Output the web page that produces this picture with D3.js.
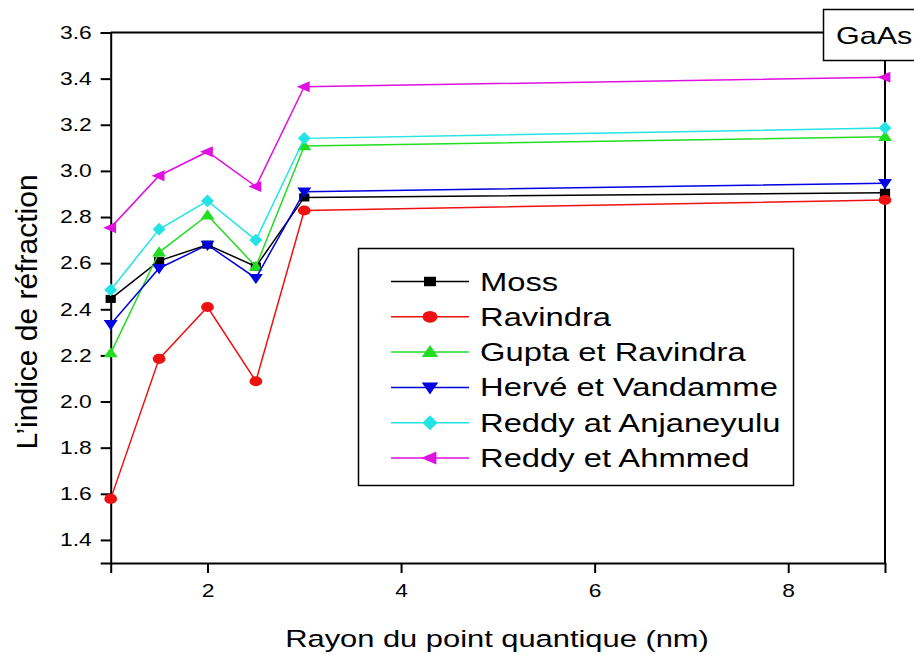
<!DOCTYPE html>
<html>
<head>
<meta charset="utf-8">
<script src="https://cdn.jsdelivr.net/npm/d3@7"></script>
<style>
  html, body { margin: 0; padding: 0; background: #fff; }
  svg { display: block; font-family: Arial, "Liberation Sans", Helvetica, sans-serif; }
</style>
</head>
<body>
<svg id="chart" width="914" height="655"></svg>
<script>
// Quantum dot radius (nm)
const radius = [1, 1.5, 2, 2.5, 3, 9];

// Refractive index of GaAs quantum dots for each model
const moss       = [2.445, 2.61, 2.68, 2.585, 2.885, 2.905];
const ravindra   = [1.578, 2.185, 2.41, 2.088, 2.828, 2.874];
const gupta      = [2.21, 2.647, 2.808, 2.585, 3.108, 3.148];
const herve      = [2.335, 2.578, 2.679, 2.535, 2.91, 2.946];
const reddyAnj   = [2.484, 2.747, 2.87, 2.70, 3.141, 3.186];
const reddyAhm   = [2.754, 2.979, 3.083, 2.932, 3.365, 3.406];

const seriesNames = ["Moss", "Ravindra", "Gupta et Ravindra", "Hervé et Vandamme",
                     "Reddy at Anjaneyulu", "Reddy et Ahmmed"];
const seriesValues = [moss, ravindra, gupta, herve, reddyAnj, reddyAhm];
const seriesColors = ["#000000", "#ee1111", "#22dd22", "#0000e0", "#22e4e4", "#e011e0"];
const seriesSymbols = ["square", "circle", "up", "down", "diamond", "left"];

const xTickLabels = [2, 4, 6, 8];
const yTickLabels = [1.4, 1.6, 1.8, 2.0, 2.2, 2.4, 2.6, 2.8, 3.0, 3.2, 3.4, 3.6];

const SX = 1.27; // horizontal stretch of glyphs and markers

const svg = d3.select("#chart");
const x = d3.scaleLinear().domain([1, 9]).range([110.7, 885]);
const y = d3.scaleLinear().domain([1.3, 3.6]).range([563, 32.5]);

// Marker path generators
function markerPath(kind) {
  switch (kind) {
    case "square":  return d3.symbol(d3.symbolSquare, 90)();
    case "circle":  return d3.symbol(d3.symbolCircle, 110)();
    case "diamond": return "M0,-7.5L6,0L0,7.5L-6,0Z";
    case "up":      return "M0,-7L6.5,5L-6.5,5Z";
    case "down":    return "M0,7L6.5,-5L-6.5,-5Z";
    case "left":    return "M-7,0L5,-6.5L5,6.5Z";
  }
}

// Frame: top and right lines
svg.append("line").attr("x1", x(1)).attr("x2", x(9)).attr("y1", y(3.6)).attr("y2", y(3.6))
  .attr("stroke", "#000").attr("stroke-width", 2);
svg.append("line").attr("x1", x(9)).attr("x2", x(9)).attr("y1", y(3.6)).attr("y2", y(1.3))
  .attr("stroke", "#000").attr("stroke-width", 2);

// Bottom axis: minor ticks at every unit, labelled ticks at even values
const xAxis = svg.append("g").attr("transform", `translate(0,${y(1.3)})`);
xAxis.call(d3.axisBottom(x).tickValues(d3.range(1, 10, 1)).tickSize(6).tickFormat(""));
xAxis.call(d3.axisBottom(x).tickValues(xTickLabels).tickSize(10).tickFormat(d3.format("d")));
xAxis.selectAll(".tick line").attr("stroke-width", 2);
xAxis.selectAll(".domain").attr("stroke-width", 2);
xAxis.selectAll(".tick text")
  .attr("font-size", 18).attr("fill", "#000").attr("dy", null).attr("y", 34)
  .attr("x", 0).attr("transform", `scale(${SX},1)`);

// Left axis: minor ticks every 0.1, labelled ticks every 0.2
const yAxis = svg.append("g").attr("transform", `translate(${x(1)},0)`);
yAxis.call(d3.axisLeft(y).tickValues(d3.range(13, 37, 1).map(v => v / 10)).tickSize(6).tickFormat(""));
yAxis.call(d3.axisLeft(y).tickValues(yTickLabels).tickSize(10).tickFormat(d3.format(".1f")));
yAxis.selectAll(".tick line").attr("stroke-width", 2);
yAxis.selectAll(".domain").attr("stroke-width", 2);
yAxis.selectAll(".tick text")
  .attr("font-size", 18).attr("fill", "#000")
  .attr("x", -19 / SX).attr("transform", `scale(${SX},1)`);

// Series lines and markers
const line = d3.line().x((d, i) => x(radius[i])).y(d => y(d));
seriesValues.forEach((vals, k) => {
  const g = svg.append("g");
  g.append("path").datum(vals).attr("d", line)
    .attr("fill", "none").attr("stroke", seriesColors[k]).attr("stroke-width", 1.5);
  g.selectAll("path.m").data(vals).join("path").attr("class", "m")
    .attr("d", markerPath(seriesSymbols[k]))
    .attr("transform", (d, i) => `translate(${x(radius[i])},${y(d)}) scale(${SX * 0.85},0.85)`)
    .attr("fill", seriesColors[k]);
});

// Legend
const legend = svg.append("g");
legend.append("rect").attr("x", 358.5).attr("y", 248.5).attr("width", 435).attr("height", 237)
  .attr("fill", "#fff").attr("stroke", "#000").attr("stroke-width", 1.5);
seriesNames.forEach((name, k) => {
  const cy = 281.5 + k * 35.3;
  legend.append("line").attr("x1", 391).attr("x2", 469).attr("y1", cy).attr("y2", cy)
    .attr("stroke", seriesColors[k]).attr("stroke-width", 1.5);
  legend.append("path").attr("d", markerPath(seriesSymbols[k]))
    .attr("transform", `translate(430,${cy}) scale(${SX},1)`)
    .attr("fill", seriesColors[k]);
  legend.append("text").attr("transform", `translate(480,${cy + 9}) scale(${SX},1)`)
    .attr("font-size", 25.8).attr("fill", "#000").text(name);
});

// Material label box
svg.append("rect").attr("x", 823.5).attr("y", 9.5).attr("width", 95).attr("height", 51)
  .attr("fill", "#fff").attr("stroke", "#000").attr("stroke-width", 1.5);
svg.append("text").attr("transform", `translate(836,44) scale(${SX},1)`)
  .attr("font-size", 24).attr("fill", "#000").text("GaAs");

// Axis titles
svg.append("text").attr("transform", `translate(497,647) scale(${SX},1)`)
  .attr("text-anchor", "middle").attr("font-size", 24.3).attr("fill", "#000")
  .text("Rayon du point quantique (nm)");
svg.append("text").attr("transform", "translate(37,312) rotate(-90)")
  .attr("text-anchor", "middle").attr("font-size", 30).attr("fill", "#000")
  .text("L’indice de réfraction");
</script>
</body>
</html>
